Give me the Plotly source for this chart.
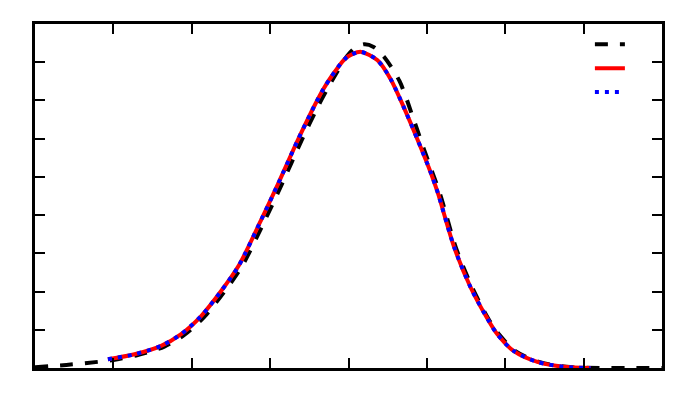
import plotly.graph_objects as go

# reference curve (black dashed)
x_ref = [0.00, 0.40, 0.80, 1.00, 1.31, 1.65, 1.90, 2.16, 2.41, 2.64, 2.93, 3.15,
         3.40, 3.63, 3.73, 3.83, 3.98, 4.08, 4.20, 4.32, 4.45, 4.65, 4.84, 4.97,
         5.17, 5.37, 5.58, 5.79, 5.92, 6.13, 6.43, 6.78, 7.20, 7.60, 8.00]
y_ref = [0.02, 0.08, 0.16, 0.21, 0.34, 0.56, 0.86, 1.34, 1.98, 2.66, 3.85, 4.81,
         5.95, 6.92, 7.30, 7.66, 8.16, 8.37, 8.47, 8.40, 8.15, 7.51, 6.45, 5.68,
         4.54, 3.15, 2.10, 1.27, 0.88, 0.44, 0.16, 0.03, 0.00, 0.00, 0.00]

# fitted curves (red solid, blue dotted)
x_fit = [0.93, 1.27, 1.61, 1.86, 2.12, 2.37, 2.60, 2.88, 3.10, 3.35, 3.58, 3.68,
         3.78, 3.95, 4.05, 4.16, 4.37, 4.54, 4.71, 4.88, 5.05, 5.14, 5.35, 5.56,
         5.77, 5.90, 6.11, 6.41, 6.75, 7.09]
y_fit1 = [0.23, 0.36, 0.58, 0.88, 1.36, 2.00, 2.68, 3.85, 4.81, 5.95, 6.92, 7.30,
          7.62, 8.08, 8.21, 8.27, 8.05, 7.55, 6.80, 5.98, 5.11, 4.58, 3.15, 2.10,
          1.30, 0.88, 0.44, 0.16, 0.03, 0.00]
y_fit2 = [0.23, 0.36, 0.58, 0.88, 1.36, 2.00, 2.68, 3.85, 4.81, 5.95, 6.92, 7.30,
          7.62, 8.08, 8.21, 8.27, 8.05, 7.55, 6.80, 5.98, 5.11, 4.58, 3.15, 2.10,
          1.30, 0.88, 0.44, 0.16, 0.03, 0.00]

fig = go.Figure()

fig.add_trace(go.Scatter(
    x=x_ref, y=y_ref, mode='lines', name=' ',
    line=dict(color='black', width=4, dash='13px,12px', shape='spline', smoothing=0.8)
))
fig.add_trace(go.Scatter(
    x=x_fit, y=y_fit1, mode='lines', name=' ',
    line=dict(color='red', width=4, shape='spline', smoothing=0.8)
))
fig.add_trace(go.Scatter(
    x=x_fit, y=y_fit2, mode='lines', name=' ',
    line=dict(color='blue', width=4, dash='4px,6px', shape='spline', smoothing=0.8)
))

axis_style = dict(
    showgrid=False, zeroline=False, showticklabels=False,
    showline=True, linecolor='black', linewidth=2.5, mirror='ticks',
    ticks='inside', ticklen=10, tickwidth=2, tickcolor='black', dtick=1,
)

fig.update_xaxes(range=[0, 8], tick0=0, **axis_style)
fig.update_yaxes(range=[0, 9], tick0=0, **axis_style)

# page body adds a small margin, so the figure is a bit smaller than the window
fig.update_layout(
    width=684, height=407,
    margin=dict(l=27, r=30, t=16, b=47),
    plot_bgcolor='white', paper_bgcolor='white',
    showlegend=True,
    legend=dict(
        x=0.885, y=0.99, xanchor='left', yanchor='top',
        bgcolor='rgba(0,0,0,0)', font=dict(size=16),
        itemwidth=30, tracegroupgap=0
    ),
)

fig.write_html("out.html")
